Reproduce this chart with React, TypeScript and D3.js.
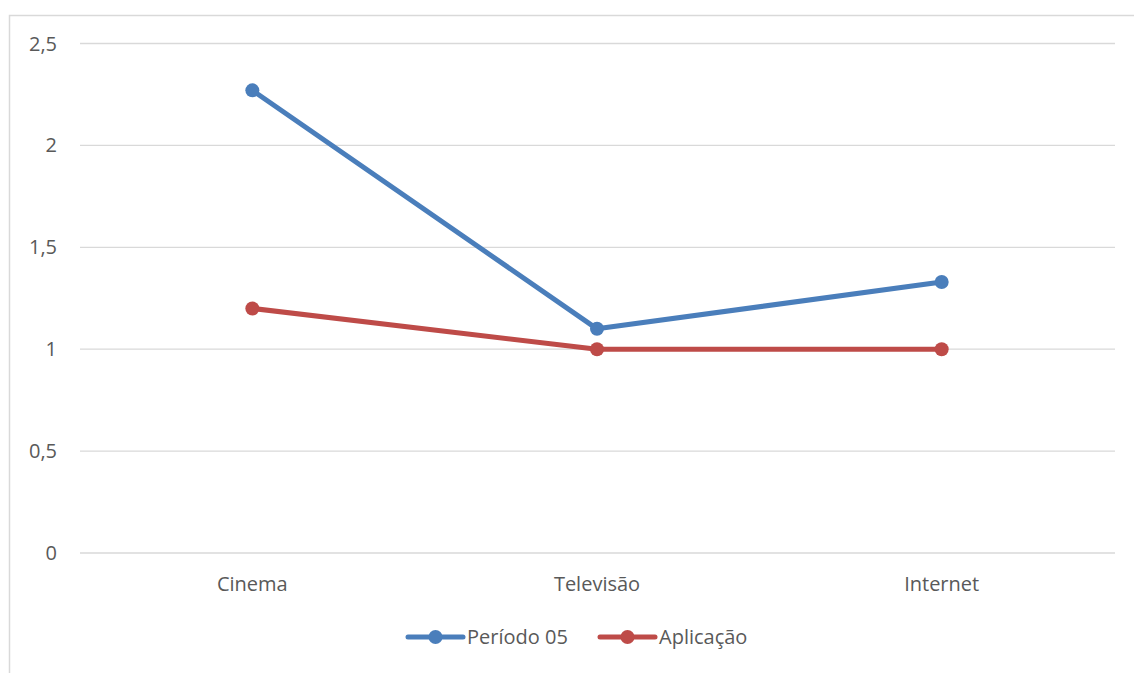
import React from "react";
import * as d3 from "d3";

const categories = ["Cinema", "Televisão", "Internet"];
const periodo05 = [2.27, 1.1, 1.33];
const aplicacao = [1.2, 1.0, 1.0];
const yTicks = [0, 0.5, 1, 1.5, 2, 2.5];
const seriesNames = ["Período 05", "Aplicação"];
const seriesColors = ["#4A7EBB", "#BE4B48"];

const W = 1134;
const H = 673;
const FONT = "'Open Sans', 'Noto Sans', sans-serif";
const FS = 20;

export default function App() {
  const x = d3.scaleBand<string>().domain(categories).range([80, 1114]);
  const y = d3.scaleLinear().domain([0, 2.5]).range([553, 43.5]);
  const fmt = (v: number) => String(v).replace(".", ",");
  const line = d3
    .line<number>()
    .x((_, i) => (x(categories[i]) as number) + x.bandwidth() / 2)
    .y((d) => y(d));
  const series = [periodo05, aplicacao];
  const legendX = [408, 600];

  return (
    <svg
      width={W}
      height={H}
      style={{ position: "absolute", left: 0, top: 0, background: "#fff" }}
      fontFamily={FONT}
    >
      <rect x={9.5} y={15.5} width={1140} height={680} fill="#fff" stroke="#D9D9D9" strokeWidth={1.5} />
      {yTicks.map((t) => (
        <g key={t}>
          <line x1={80} x2={1115} y1={y(t)} y2={y(t)} stroke="#D9D9D9" strokeWidth={1.3} />
          <text x={57} y={y(t)} dy="0.35em" textAnchor="end" fontSize={FS} fill="#595959">
            {fmt(t)}
          </text>
        </g>
      ))}
      {categories.map((c) => (
        <text
          key={c}
          x={(x(c) as number) + x.bandwidth() / 2}
          y={584}
          dy="0.35em"
          textAnchor="middle"
          fontSize={FS}
          fill="#595959"
        >
          {c}
        </text>
      ))}
      {series.map((s, si) => (
        <g key={si}>
          <path d={line(s) || ""} fill="none" stroke={seriesColors[si]} strokeWidth={5} strokeLinejoin="round" strokeLinecap="round" />
          {s.map((v, i) => (
            <circle
              key={i}
              cx={(x(categories[i]) as number) + x.bandwidth() / 2}
              cy={y(v)}
              r={7}
              fill={seriesColors[si]}
            />
          ))}
        </g>
      ))}
      {seriesNames.map((n, si) => (
        <g key={n}>
          <line x1={legendX[si]} x2={legendX[si] + 55} y1={637} y2={637} stroke={seriesColors[si]} strokeWidth={5} strokeLinecap="round" />
          <circle cx={legendX[si] + 27.5} cy={637} r={7} fill={seriesColors[si]} />
          <text x={legendX[si] + 59} y={637} dy="0.35em" fontSize={FS} fill="#595959">
            {n}
          </text>
        </g>
      ))}
    </svg>
  );
}
